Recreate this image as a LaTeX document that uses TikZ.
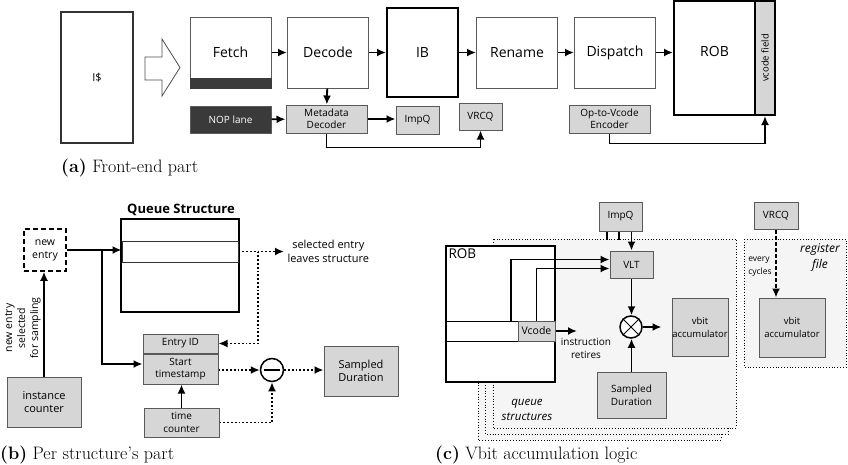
\documentclass[tikz,border=0pt]{standalone}
\usepackage{fontspec}
\setsansfont{Open Sans}
\usetikzlibrary{shapes, arrows.meta, positioning}

\definecolor{boxgray}{HTML}{D6D6D6}
\definecolor{darkfill}{HTML}{3A3A3A}
\definecolor{panel}{HTML}{F5F5F5}
\definecolor{edge}{HTML}{5A5A5A}

\begin{document}
\begin{tikzpicture}[x=1pt, y=-1pt, >={Latex[length=9pt,width=8pt]},
    flow/.style = {->, line width=1.8pt},
    dotflow/.style = {->, line width=1.8pt, dotted},
    stage/.style = {draw=edge, line width=1pt, fill=white, minimum width=81pt, minimum height=71pt, inner sep=0pt, font=\sffamily\fontsize{14}{16}\selectfont},
    unit/.style = {draw=edge, line width=1pt, fill=boxgray, inner sep=0pt, align=center, font=\sffamily\fontsize{10}{12}\selectfont},
    ubox/.style = {unit, font=\sffamily\fontsize{11}{13.5}\selectfont},
    note/.style = {align=center, font=\sffamily\fontsize{10.5}{13}\selectfont},
    caption/.style = {anchor=base west, inner sep=0pt, font=\fontsize{18}{20}\selectfont}]
    \useasboundingbox (0,0) rectangle (848,464);

    % (a) front-end
    \node[draw=black!80, line width=1.2pt, minimum width=72pt, minimum height=131pt, inner sep=0pt, font=\sffamily\fontsize{11}{12}\selectfont] (icache) at (97,77.5) {I\$};
    \draw[draw=black!70, line width=0.8pt] (145,57) -- (162,57) -- (162,39) -- (180,67.5) -- (162,96) -- (162,80) -- (145,80) -- cycle;
    \node[stage] (fetch) at (230.5,52.5) {Fetch};
    \fill[darkfill] (fetch.south west) rectangle ([yshift=11pt]fetch.south east);
    \node[stage, right=15.5pt of fetch] (decode) {Decode};
    \node[stage, draw=black, line width=2pt, minimum width=71pt, minimum height=89pt, right=17pt of decode] (ib) {IB};
    \node[stage, right=17pt of ib] (rename) {Rename};
    \node[stage, right=16pt of rename] (dispatch) {Dispatch};
    \node[stage, draw=black, line width=2pt, minimum height=114pt] (rob) at (714.5,58) {};
    \node[font=\sffamily\fontsize{14}{16}\selectfont] (robname) at ([yshift=7pt]rob.center) {ROB};
    \node[unit, draw=black, line width=2pt, minimum width=114pt, minimum height=20pt, rotate=90, font=\sffamily\fontsize{9.5}{10}\selectfont] (vfield) at (765,58) {vcode field};

    \node[unit, fill=darkfill, text=white, minimum width=81pt, minimum height=27pt] (nop) at (230.5,119.5) {NOP lane};
    \node[unit, minimum width=81pt, minimum height=28pt] (meta) at (326.5,119) {Metadata\\Decoder};
    \node[unit, minimum width=43pt, minimum height=28pt] (impq) at (417.5,120) {ImpQ};
    \node[unit, minimum width=43pt, minimum height=27pt] (vrcq) at (480.5,116.5) {VRCQ};
    \node[unit, minimum width=81pt, minimum height=28pt] (encoder) at (609.5,119) {Op-to-Vcode\\Encoder};

    \draw[flow] (fetch) -- (decode);
    \draw[flow] (decode) -- (ib);
    \draw[flow] (ib) -- (rename);
    \draw[flow] (rename) -- (dispatch);
    \draw[flow] (dispatch.east) -- (dispatch.east -| rob.west);
    \draw[flow] (decode) -- (meta);
    \draw[flow] (nop) -- (meta);
    \draw[flow] (meta.east) -- (meta.east -| impq.west);
    \draw[flow] (meta.south) -- ++(0,14) -| (vrcq.south);
    \draw[flow] (encoder.south) -- ++(0,10) -| (vfield.west);

    \node[caption] (capa) at (61,172) {\textbf{(a)} Front-end part};

    % (b) per structure
    \node[font=\sffamily\bfseries\fontsize{13}{15}\selectfont] (qtitle) at (181,210) {Queue Structure};
    \node[draw=black, line width=2pt, minimum width=118pt, minimum height=93pt, inner sep=0pt] (queue) at (180,265.5) {};
    \node[draw=black!80, line width=1pt, minimum width=116pt, minimum height=21pt, inner sep=0pt] (slot) at (180,251.5) {};
    \node[note, draw, line width=1.5pt, dash pattern=on 5pt off 3pt, minimum size=42pt, inner sep=0pt] (newentry) at (45,250) {new\\entry};
    \node[ubox, minimum width=75pt, minimum height=19pt, font=\sffamily\fontsize{10}{12}\selectfont] (entryid) at (180.5,343.5) {Entry ID};
    \node[ubox, minimum width=75pt, minimum height=30pt, font=\sffamily\fontsize{10}{12.5}\selectfont, below=0pt of entryid] (stamp) {Start\\timestamp};
    \node[note, anchor=west, font=\sffamily\fontsize{11}{14}\selectfont] (leaves) at (284,251) {selected entry\\leaves structure};
    \node[circle, draw, line width=1.5pt, minimum size=23pt, inner sep=0pt] (minus) at (272,370) {};
    \node[ubox, minimum width=74pt, minimum height=50pt] (sampled) at (361,371) {Sampled\\Duration};
    \node[ubox, minimum width=75pt, minimum height=29pt, font=\sffamily\fontsize{10}{12.5}\selectfont] (timec) at (181.5,422.5) {time\\counter};
    \node[ubox, minimum width=74pt, minimum height=50pt] (instc) at (44,402) {instance\\counter};
    \node[note, rotate=90] (sampnote) at (23,328) {new entry\\selected\\for sampling};
    \coordinate (split) at (102,250);
    \coordinate (exit) at (258,251.5);

    \draw[line width=1.5pt] ([xshift=-8pt]minus.center) -- ([xshift=8pt]minus.center);
    \draw[flow] (newentry.east) -- (newentry.east -| slot.west);
    \draw[flow] (split) |- ([yshift=5pt]stamp.west);
    \draw[dotflow] (slot.east) -- (slot.east -| leaves.west);
    \draw[dotflow] (exit) |- (entryid.east);
    \draw[dotflow] (stamp.east |- minus) -- (minus);
    \draw[dotflow] (minus) -- (minus -| sampled.west);
    \draw[flow] (timec.north) -- (timec.north |- stamp.south);
    \draw[dotflow] (timec.east) -| (minus.south);
    \draw[flow] (instc.north) -- (instc.north |- newentry.south);

    \node[caption] (capb) at (0,459) {\textbf{(b)} Per structure's part};

    % (c) vbit accumulation
    \foreach \k in {2,1,0}
        \draw[dotted, line width=0.8pt, fill=panel] ({493-7.5*\k},{239+6*\k}) rectangle ++(243,189);
    \draw[dotted, line width=0.8pt, fill=panel] (744,239) rectangle (846,367);

    \node[draw=black, line width=2pt, fill=white, minimum width=109pt, minimum height=136pt, inner sep=0pt] (robc) at (500.5,314) {};
    \node[anchor=north west, font=\sffamily\fontsize{13.5}{15}\selectfont] (robtitle) at (robc.north west) {ROB};
    \node[draw=black, line width=1pt, minimum width=72pt, minimum height=20pt, inner sep=0pt] (robrow) at (482,331) {};
    \node[unit, minimum width=37pt, minimum height=20pt, font=\sffamily\fontsize{10.5}{12}\selectfont] (vcode) at (536.5,331) {Vcode};
    \node[unit, minimum width=43pt, minimum height=29pt] (impqc) at (620.5,216.5) {ImpQ};
    \node[unit, minimum width=43pt, minimum height=27pt] (vlt) at (631.5,264.5) {VLT};
    \node[circle, draw, line width=1.5pt, fill=white, minimum size=22pt, inner sep=0pt] (mul) at (631,327) {};
    \node[unit, minimum width=56pt, minimum height=58pt, font=\sffamily\fontsize{9.5}{13}\selectfont] (vbit) at (700,327) {vbit\\accumulator};
    \node[unit, minimum width=69pt, minimum height=46pt, font=\sffamily\fontsize{10}{13}\selectfont] (sampledc) at (631.5,395) {Sampled\\Duration};
    \node[note, font=\sffamily\fontsize{10}{13}\selectfont] (retire) at (586,348) {instruction\\retires};
    \node[note, font=\sffamily\itshape\fontsize{11.5}{15}\selectfont] (qnote) at (527,410) {queue\\structures};
    \node[unit, minimum width=44pt, minimum height=27pt] (vrcqc) at (776,215.5) {VRCQ};
    \node[note, font=\sffamily\itshape\fontsize{12}{16}\selectfont] (rfnote) at (820,258) {register\\file};
    \node[unit, minimum width=66pt, minimum height=59pt, font=\sffamily\fontsize{9.5}{13}\selectfont] (vbitrf) at (792,327.5) {vbit\\accumulator};
    \node[note, align=left, font=\sffamily\fontsize{8.5}{13}\selectfont] (everynote) at (760,267) {every\\cycles};
    \coordinate (retired) at (577,331);

    \draw[line width=1pt] (mul.north east) -- (mul.south west) (mul.north west) -- (mul.south east);
    \draw[line width=1.5pt] ([xshift=-13.5pt]impqc.south) -- ++(0,8);
    \draw[line width=1.5pt] ([xshift=-1.5pt]impqc.south) -- ++(0,8);
    \draw[flow] (impqc.south -| vlt.north) -- (vlt.north);
    \draw[flow] ([xshift=29pt]robrow.north) |- ([yshift=5pt]vlt.west);
    \draw[flow] (vcode.north) |- ([yshift=-4pt]vlt.west);
    \draw[flow] (vlt.south) -- (vlt.south |- mul.north);
    \draw[flow, shorten >=10pt] (mul) -- (vbit);
    \draw[flow] (vcode.east) -- (retired);
    \draw[flow] (sampledc.north) -- (sampledc.north |- mul.south);
    \draw[->, line width=1.8pt, dash pattern=on 4pt off 2pt] (vrcqc.south) -- (vrcqc.south |- vbitrf.north);

    \node[caption] (capc) at (435,459) {\textbf{(c)} Vbit accumulation logic};
\end{tikzpicture}
\end{document}
